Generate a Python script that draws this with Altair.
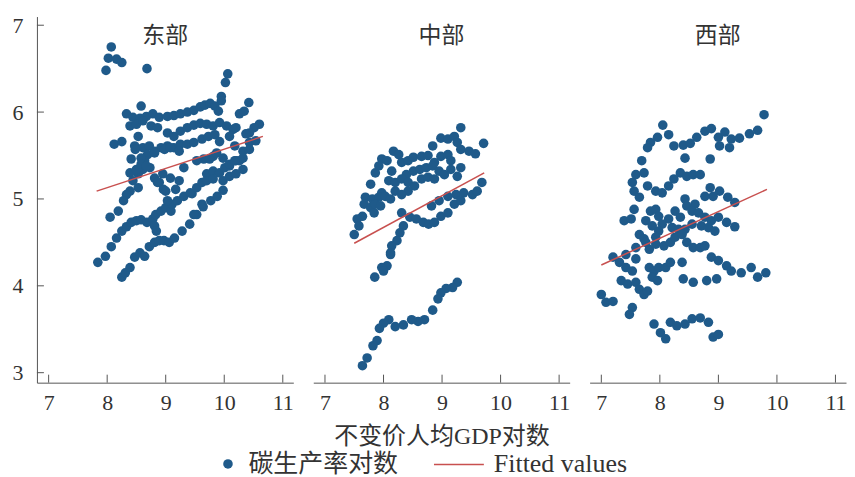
import altair as alt
import pandas as pd

regions = ["东部", "中部", "西部"]
point_label = "碳生产率对数"
line_label = "Fitted values"
x_title = "不变价人均GDP对数"
x_ticks = [7, 8, 9, 10, 11]
y_ticks = [3, 4, 5, 6, 7]

east_x = [8.07, 8.02, 8.16, 8.25, 7.98, 8.68, 10.06, 10.02, 9.95, 9.95, 10.42, 10.26, 10.34, 10.60, 10.51, 10.43,
          8.58, 8.33, 8.44, 8.56, 8.67, 8.78, 8.89, 9.03, 9.14, 9.25, 9.37, 9.48, 9.59, 9.67, 9.76, 9.84, 9.90,
          8.39, 8.50, 8.61, 8.75, 8.86, 9.03, 9.14, 9.25, 9.37, 9.48, 9.59, 9.70, 9.81, 9.92, 10.04, 10.15, 10.09,
          8.53, 8.12, 8.25, 8.47, 8.61, 8.72, 8.81, 8.92, 9.03, 9.14, 9.25, 9.37, 9.48, 9.62, 9.73, 9.84, 9.92,
          10.18, 10.32, 10.43, 8.69, 8.64, 9.65, 9.81, 10.26, 8.58, 8.81, 8.98, 9.08, 9.23, 9.31, 9.23, 9.08,
          8.95, 8.81, 8.73, 8.61, 8.53, 8.39, 8.44, 8.53, 8.39, 9.53, 9.75, 9.87, 9.98, 10.09, 10.20, 10.32,
          10.43, 10.54, 9.70, 9.81, 9.98, 10.09, 10.20, 10.32, 9.45, 8.50, 8.58, 8.67, 8.33, 8.28, 8.19, 8.05,
          8.89, 8.96, 8.41, 8.48, 10.37, 10.20,
          8.25, 8.31, 8.39, 8.47, 8.56, 8.64, 8.72, 8.81, 8.89, 8.97, 9.06, 9.15, 9.28, 9.41, 9.53, 9.64, 9.77,
          9.88, 9.98,
          7.84, 7.97, 8.07, 8.16, 8.25, 8.33, 8.41, 8.50, 8.58, 8.68, 8.78, 8.83, 8.92, 9.00, 9.09, 9.11, 9.20,
          9.31, 9.42, 9.53, 9.62, 9.70, 9.81, 9.92, 10.01, 10.09, 10.18,
          8.81, 8.84, 9.00, 9.03, 9.17, 8.86, 9.62, 9.48]
east_y = [6.75, 6.62, 6.61, 6.57, 6.48, 6.50, 6.44, 6.34, 6.18, 6.13, 6.11, 5.98, 6.01, 5.86, 5.82, 5.76,
          6.07, 5.98, 5.94, 5.93, 5.95, 5.98, 5.94, 5.95, 5.96, 5.98, 6.00, 6.02, 6.06, 6.08, 6.10, 6.07, 6.01,
          5.84, 5.86, 5.90, 5.84, 5.82, 5.76, 5.72, 5.78, 5.82, 5.85, 5.87, 5.86, 5.84, 5.88, 5.84, 5.80, 5.72,
          5.72, 5.63, 5.66, 5.61, 5.59, 5.61, 5.55, 5.59, 5.61, 5.59, 5.63, 5.63, 5.65, 5.69, 5.72, 5.74, 5.66,
          5.61, 5.55, 5.65, 5.51, 5.44, 5.46, 5.49, 5.44, 5.47, 5.53, 5.57, 5.59, 5.55, 5.36, 5.21, 5.24,
          5.29, 5.24, 5.36, 5.34, 5.29, 5.30, 5.21, 5.13, 5.09, 5.44, 5.46, 5.53, 5.47, 5.38, 5.44, 5.47,
          5.57, 5.67, 5.29, 5.32, 5.21, 5.26, 5.29, 5.34, 5.06, 5.34, 5.40, 5.38, 5.05, 4.98, 4.86, 4.79,
          5.19, 5.11, 5.46, 5.57, 5.75, 5.82,
          4.10, 4.15, 4.21, 4.33, 4.38, 4.34, 4.45, 4.50, 4.52, 4.52, 4.50, 4.55, 4.63, 4.71, 4.82, 4.91, 4.98,
          5.03, 5.10,
          4.27, 4.34, 4.45, 4.55, 4.63, 4.68, 4.73, 4.75, 4.76, 4.73, 4.77, 4.82, 4.86, 4.90, 4.86, 4.94, 4.98,
          5.03, 5.07, 5.13, 5.19, 5.21, 5.23, 5.30, 5.36, 5.40, 5.44,
          4.69, 4.63, 5.09, 4.98, 5.11, 5.19, 4.94, 4.82]

central_x = [9.32, 8.98, 9.10, 9.21, 9.26, 9.71, 8.84, 9.32, 9.46, 9.57,
             8.17, 8.26, 7.97, 8.06, 8.31, 8.42, 8.51, 8.65, 8.76, 8.87, 8.98, 9.10, 9.15,
             7.86, 7.92, 8.14, 8.39, 8.51, 8.62, 8.73, 8.84, 8.95, 9.04, 9.15, 9.26, 9.32,
             7.78, 8.09, 8.20, 8.31, 8.42, 8.53, 8.65, 8.76, 8.87,
             8.42, 8.20, 7.97, 7.69, 7.81, 7.92, 8.03, 8.12, 8.31,
             7.67, 7.78, 7.86, 7.95, 7.84, 7.64, 7.55, 7.58, 7.50,
             8.31, 8.45, 8.56, 8.68, 8.77, 8.87, 8.98, 9.10, 8.82, 8.95, 9.10, 9.24, 9.37, 9.52, 9.60, 9.68,
             9.21, 9.32,
             8.34, 8.28, 8.23, 8.14, 8.12, 8.12, 8.06, 7.97, 8.00, 7.85,
             9.26, 9.18, 9.07, 8.98, 8.93, 8.84, 8.70, 8.59, 8.48, 8.34, 8.20, 8.09, 8.00, 7.93, 7.89, 7.82,
             7.72, 7.64]
central_y = [5.82, 5.70, 5.69, 5.72, 5.65, 5.64, 5.61, 5.57, 5.55, 5.52,
             5.55, 5.51, 5.46, 5.44, 5.42, 5.44, 5.48, 5.49, 5.50, 5.42, 5.49, 5.51, 5.44,
             5.30, 5.38, 5.32, 5.28, 5.32, 5.34, 5.36, 5.38, 5.32, 5.28, 5.34, 5.26, 5.36,
             5.17, 5.21, 5.19, 5.23, 5.19, 5.15, 5.23, 5.25, 5.23,
             5.09, 5.09, 5.07, 5.02, 5.00, 5.02, 5.03, 5.00, 5.05,
             4.94, 4.90, 4.94, 4.92, 4.84, 4.80, 4.77, 4.69, 4.59,
             4.84, 4.79, 4.77, 4.73, 4.71, 4.73, 4.80, 4.84, 4.92, 4.98, 5.03, 5.05, 5.07, 5.05, 5.09, 5.19,
             4.94, 4.98,
             4.69, 4.61, 4.52, 4.46, 4.38, 4.36, 4.23, 4.21, 4.17, 4.10,
             4.04, 3.98, 3.97, 3.92, 3.85, 3.72, 3.61, 3.59, 3.61, 3.55, 3.53, 3.61, 3.57, 3.51, 3.37, 3.31,
             3.17, 3.08]

west_x = [9.78, 8.05, 8.15, 7.96, 7.84, 7.79, 7.69, 8.24, 8.40, 8.52, 8.63, 8.77, 8.88, 9.00, 9.11, 9.22,
          9.36, 9.53, 9.67, 9.02, 9.19, 8.43, 8.86,
          7.59, 7.73, 7.53, 7.56, 7.65, 7.79, 7.93, 8.04, 8.15, 8.24, 8.35, 8.46, 8.57, 8.69, 8.86, 9.02,
          9.16, 9.28, 8.91, 8.77, 8.43, 8.60,
          7.56, 7.39, 7.51, 7.76, 7.84, 7.93, 7.98, 8.15, 8.26, 8.35, 8.46, 8.55, 8.66, 8.77, 8.88, 9.00,
          9.14, 9.28,
          8.04, 8.21, 8.32, 8.43, 8.55, 8.71, 8.83, 8.94,
          7.65, 7.73, 7.59, 7.82, 7.93, 8.07, 8.18, 8.26, 8.38, 8.46, 8.57, 8.69, 8.77,
          8.88, 9.00, 9.14, 9.22, 9.39, 9.56, 9.67, 9.81,
          7.20, 7.31, 7.42, 7.53, 7.34, 7.45, 7.59, 7.65, 7.73, 7.82, 7.90, 7.98, 7.87, 7.96, 8.10, 8.18,
          8.38, 8.40, 8.57, 8.80, 8.97,
          7.00, 7.08, 7.20, 7.53, 7.48, 7.79,
          7.90, 8.18, 8.29, 8.43, 8.55, 8.69, 8.83, 8.01, 8.10, 8.91, 9.00,
          7.87, 7.98, 7.93, 7.76, 7.42, 7.59]
west_y = [5.97, 5.85, 5.74, 5.71, 5.65, 5.59, 5.44, 5.61, 5.62, 5.64, 5.71, 5.78, 5.81, 5.71, 5.77, 5.69,
          5.70, 5.75, 5.79, 5.61, 5.59, 5.47, 5.46,
          5.28, 5.30, 5.19, 5.09, 5.02, 5.15, 5.09, 5.07, 5.15, 5.23, 5.30, 5.26, 5.28, 5.28, 5.13, 5.09,
          5.02, 4.96, 5.03, 5.03, 5.00, 4.94,
          4.88, 4.75, 4.77, 4.75, 4.86, 4.88, 4.80, 4.77, 4.86, 4.79, 4.92, 4.86, 4.84, 4.79, 4.75, 4.79,
          4.73, 4.68,
          4.71, 4.67, 4.65, 4.65, 4.71, 4.69, 4.67, 4.63,
          4.59, 4.54, 4.44, 4.42, 4.48, 4.46, 4.50, 4.56, 4.59, 4.50, 4.44, 4.44, 4.46,
          4.33, 4.29, 4.23, 4.17, 4.15, 4.21, 4.10, 4.15,
          4.33, 4.27, 4.21, 4.17, 4.06, 4.02, 4.04, 3.96, 3.90, 4.21, 4.17, 4.21, 4.10, 4.06, 4.21, 4.27,
          4.27, 4.08, 4.04, 4.06, 4.08,
          3.90, 3.81, 3.82, 3.75, 3.67, 3.94,
          3.56, 3.58, 3.54, 3.56, 3.62, 3.63, 3.58, 3.46, 3.39, 3.41, 3.44,
          4.69, 4.63, 4.56, 4.50, 4.36, 4.31]

east_fit_x = [7.82, 10.66]
east_fit_y = [5.09, 5.72]
central_fit_x = [7.50, 9.72]
central_fit_y = [4.49, 5.30]
west_fit_x = [7.00, 9.83]
west_fit_y = [4.24, 5.11]

FONT = "Liberation Serif, Noto Sans CJK SC"
BLUE = "#1f5a8a"
RED = "#c8504f"
GREY = "#555555"
TEXT = "#333333"
W, H = 257, 367

xscale = alt.Scale(domain=[6.8, 11.18], nice=False, zero=False)
yscale = alt.Scale(domain=[2.885, 7.1], nice=False, zero=False)


def panel(name, xs, ys, fx, fy, show_y, show_title):
    xaxis = alt.Axis(values=x_ticks, tickSize=0, labelPadding=10, labelFontSize=22, labelFont=FONT,
                     labelColor=TEXT, domainColor=GREY, grid=False, labelFlush=False,
                     titleFont=FONT, titleFontSize=24, titleFontWeight="normal", titleColor=TEXT,
                     titlePadding=11)
    if show_title:
        X = alt.X("x:Q", scale=xscale, axis=xaxis, title=x_title)
    else:
        X = alt.X("x:Q", scale=xscale, axis=xaxis, title=None)
    if show_y:
        yaxis = alt.Axis(values=y_ticks, tickSize=0, labelPadding=14, labelFontSize=22, labelFont=FONT,
                         labelColor=TEXT, domainColor=GREY, grid=False, labelFlush=False)
        Y = alt.Y("y:Q", scale=yscale, axis=yaxis, title=None)
    else:
        Y = alt.Y("y:Q", scale=yscale, axis=None)

    pts = pd.DataFrame({"x": xs, "y": ys, "s": point_label})
    fit = pd.DataFrame({"x": fx, "y": fy, "f": line_label})
    xt = pd.DataFrame({"x": x_ticks})

    points = alt.Chart(pts).mark_circle(size=92, opacity=1).encode(
        x=X, y=Y,
        color=alt.Color("s:N", title=None,
                        scale=alt.Scale(domain=[point_label], range=[BLUE]),
                        legend=alt.Legend(orient="none", legendX=179, legendY=436, padding=0,
                                          symbolSize=92, labelFontSize=25, labelFont=FONT,
                                          labelColor=TEXT, labelOffset=8, symbolOpacity=1)),
    )
    line = alt.Chart(fit).mark_line(strokeWidth=1.5).encode(
        x=X, y=Y,
        stroke=alt.Stroke("f:N", title=None,
                          scale=alt.Scale(domain=[line_label], range=[RED]),
                          legend=alt.Legend(orient="none", legendX=397, legendY=423, padding=0,
                                            symbolType="stroke", symbolSize=2500,
                                            symbolStrokeWidth=1.5, labelFontSize=26, labelFont=FONT,
                                            labelColor=TEXT, labelOffset=9)),
    )
    xticks = alt.Chart(xt).mark_rule(color=GREY, strokeWidth=1).encode(
        x=X, y=alt.value(H), y2=alt.value(H - 8))
    title = alt.Chart(pd.DataFrame({"r": [name]})).mark_text(
        font="Noto Sans CJK SC", fontSize=23, color=TEXT, baseline="middle", align="center"
    ).encode(text="r:N", x=alt.value(W / 2), y=alt.value(20))

    layers = [points, line, xticks, title]
    if show_y:
        yt = pd.DataFrame({"y": y_ticks})
        yticks = alt.Chart(yt).mark_rule(color=GREY, strokeWidth=1).encode(
            y=Y, x=alt.value(0), x2=alt.value(7))
        layers.append(yticks)
    return alt.layer(*layers).properties(width=W, height=H)


chart = alt.hconcat(
    panel(regions[0], east_x, east_y, east_fit_x, east_fit_y, True, False),
    panel(regions[1], central_x, central_y, central_fit_x, central_fit_y, False, True),
    panel(regions[2], west_x, west_y, west_fit_x, west_fit_y, False, False),
    spacing=18,
).properties(
    padding={"left": 3, "top": 5, "right": 0, "bottom": 0},
    background="white",
).configure_view(stroke="transparent")

chart.save("out.html", embed_options={"renderer": "svg", "actions": False})
